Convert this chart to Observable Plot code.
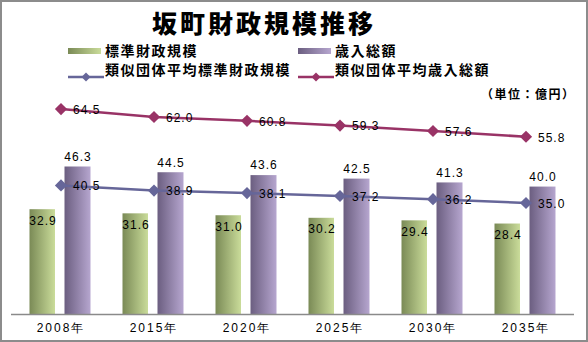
<!DOCTYPE html>
<html><head><meta charset="utf-8">
<script src="https://cdn.jsdelivr.net/npm/d3@7"></script>
<script src="https://cdn.jsdelivr.net/npm/@observablehq/plot@0.6"></script>
<style>
body{margin:0;background:#fff;}
#wrap{position:relative;width:588px;height:342px;overflow:hidden;background:#fff;font-family:"Noto Sans CJK JP",sans-serif;}
#frame{position:absolute;left:0;top:0;width:584px;height:338px;border:2px solid #8c8c8c;pointer-events:none;}
#title{position:absolute;left:152px;top:4px;white-space:nowrap;font-size:25px;font-weight:900;letter-spacing:3px;color:#000;}
.lg{position:absolute;font-size:14px;font-weight:bold;letter-spacing:1.5px;color:#000;line-height:16px;white-space:nowrap;}
.sw{position:absolute;}
#unit{position:absolute;left:481px;top:85px;font-size:12px;font-weight:bold;letter-spacing:1.5px;}
#chart{position:absolute;left:0;top:85px;}
#chart svg text{letter-spacing:1px;}
#chart svg g[aria-label="x-axis tick label"] text{letter-spacing:2px;}
</style></head>
<body>
<div id="wrap">
  <div id="title">坂町財政規模推移</div>
  <div id="legend"></div>
  <div id="unit">（単位：億円）</div>
  <div id="chart"></div>
  <div id="frame"></div>
</div>
<script>
const years = ["2008年","2015年","2020年","2025年","2030年","2035年"];
const standardScale = [32.9,31.6,31.0,30.2,29.4,28.4];
const totalRevenue = [46.3,44.5,43.6,42.5,41.3,40.0];
const avgStandardScale = [40.5,38.9,38.1,37.2,36.2,35.0];
const avgTotalRevenue = [64.5,62.0,60.8,59.3,57.6,55.8];
const seriesNames = ["標準財政規模","歳入総額","類似団体平均標準財政規模","類似団体平均歳入総額"];

const rows = years.map((y,i)=>({year:y, std:standardScale[i], rev:totalRevenue[i], avgStd:avgStandardScale[i], avgRev:avgTotalRevenue[i]}));

const cGreenA="#7a8a56", cGreenB="#cadc9a", cPurA="#6b5e80", cPurB="#b6a6cf";
const cLine1="#666699", cLine2="#993366";

function defs(){
  const d = d3.create("svg:defs");
  const mk=(id,a,b)=>{const g=d.append("linearGradient").attr("id",id).attr("x1","0").attr("x2","1").attr("y1","0").attr("y2","0");
    g.append("stop").attr("offset","0").attr("stop-color",a);
    g.append("stop").attr("offset","1").attr("stop-color",b);};
  mk("gGreen",cGreenA,cGreenB);
  mk("gPurple",cPurA,cPurB);
  return d.node();
}

const fontF = "'Liberation Sans', Arial, sans-serif";
const plot = Plot.plot({
  width:588, height:257,
  marginLeft:11, marginRight:14, marginTop:6, marginBottom:28,
  style:{fontFamily:fontF, fontSize:"12px", color:"#000", background:"transparent"},
  x:{domain:years, padding:0, label:null},
  y:{domain:[0,70], axis:null},
  marks:[
    defs,
    Plot.barY(rows,{x:"year", y:"std", fill:"url(#gGreen)", insetLeft:15.5, insetRight:52}),
    Plot.barY(rows,{x:"year", y:"rev", fill:"url(#gPurple)", insetLeft:50.5, insetRight:16.5}),
    Plot.ruleY([0],{stroke:"#8a8a8a", strokeWidth:1.5}),
    Plot.axisX({tickSize:0, tickPadding:9, fontSize:12, fill:"#000"}),
    Plot.line(rows,{x:"year", y:"avgStd", stroke:cLine1, strokeWidth:2.5}),
    Plot.dot(rows,{x:"year", y:"avgStd", symbol:"diamond2", r:5.5, fill:cLine1, stroke:null}),
    Plot.line(rows,{x:"year", y:"avgRev", stroke:cLine2, strokeWidth:2.5}),
    Plot.dot(rows,{x:"year", y:"avgRev", symbol:"diamond2", r:5.5, fill:cLine2, stroke:null}),
    Plot.text(rows,{x:"year", y:"std", text:d=>d.std.toFixed(1), dx:-18, dy:11, fontSize:12, fill:"#000"}),
    Plot.text(rows,{x:"year", y:"rev", text:d=>d.rev.toFixed(1), dx:17, dy:-10, fontSize:12, fill:"#000"}),
    Plot.text(rows,{x:"year", y:"avgStd", text:d=>d.avgStd.toFixed(1), dx:12, dy:1, textAnchor:"start", fontSize:12, fill:"#000"}),
    Plot.text(rows,{x:"year", y:"avgRev", text:d=>d.avgRev.toFixed(1), dx:12, dy:1, textAnchor:"start", fontSize:12, fill:"#000"})
  ]
});
document.getElementById("chart").appendChild(plot);

// legend
const lg = document.getElementById("legend");
const items = [
  {name:seriesNames[0], type:"bar", a:cGreenA, b:cGreenB, x:68, y:51},
  {name:seriesNames[1], type:"bar", a:cPurA, b:cPurB, x:298, y:51},
  {name:seriesNames[2], type:"line", c:cLine1, x:68, y:70},
  {name:seriesNames[3], type:"line", c:cLine2, x:298, y:70}
];
items.forEach(it=>{
  const s = document.createElement("div");
  s.className="sw";
  if(it.type==="bar"){
    s.style.cssText=`left:${it.x}px;top:${it.y-3}px;width:33px;height:6px;background:linear-gradient(to right,${it.a},${it.b});`;
  } else {
    s.style.cssText=`left:${it.x}px;top:${it.y-6}px;width:36px;height:12px;`;
    s.innerHTML=`<svg width="36" height="12"><line x1="0" x2="36" y1="6" y2="6" stroke="${it.c}" stroke-width="2.5"/><path d="M18,1.5L22.5,6L18,10.5L13.5,6Z" fill="${it.c}"/></svg>`;
  }
  lg.appendChild(s);
  const t = document.createElement("div");
  t.className="lg";
  t.textContent=it.name;
  t.style.left=(it.x+37)+"px";
  t.style.top=(it.y-9)+"px";
  lg.appendChild(t);
});
</script>
</body></html>
